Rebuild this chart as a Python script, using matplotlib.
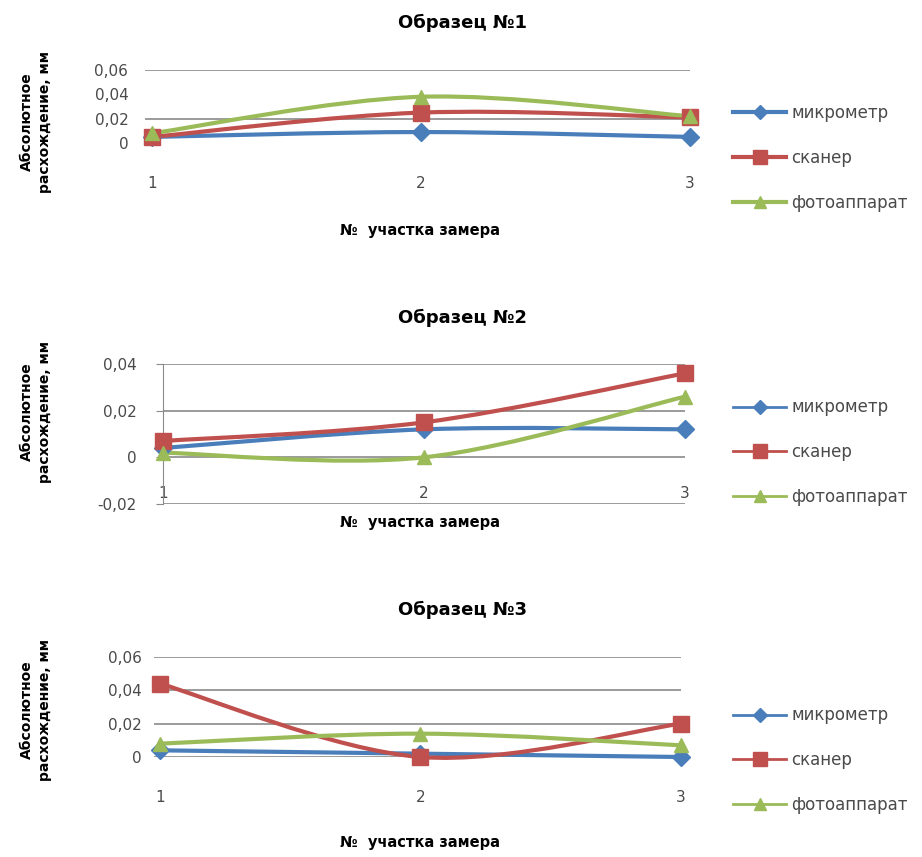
import matplotlib
matplotlib.use('Agg')
import matplotlib.pyplot as plt
import matplotlib.ticker as mtick
from matplotlib.path import Path
from matplotlib.patches import PathPatch
from matplotlib.lines import Line2D

plt.rcParams['font.family'] = ['DejaVu Sans']

# data
points = [1, 2, 3]
series_names = ['микрометр', 'сканер', 'фотоаппарат']

s1_micro = [0.005, 0.009, 0.005]
s1_scan = [0.005, 0.025, 0.021]
s1_photo = [0.008, 0.038, 0.022]

s2_micro = [0.004, 0.012, 0.012]
s2_scan = [0.007, 0.015, 0.036]
s2_photo = [0.002, 0.000, 0.026]

s3_micro = [0.004, 0.002, 0.000]
s3_scan = [0.044, 0.000, 0.020]
s3_photo = [0.008, 0.014, 0.007]

colors = ['#4A7EBB', '#C0504D', '#9BBB59']
markers = ['D', 's', '^']
msizes = [9, 12, 10]
txtcol = '#4a4a4a'
gridcol = '#8a8a8a'

W, H = 922, 857


def px(x0, y0, x1, y1):
    # pixel box -> figure fraction [left, bottom, width, height]
    return [x0 / W, 1 - y1 / H, (x1 - x0) / W, (y1 - y0) / H]


def smooth(ax, x, y, color, lw):
    # excel-style smoothed line: cubic bezier through the points
    n = len(x)
    verts = [(x[0], y[0])]
    codes = [Path.MOVETO]
    for i in range(n - 1):
        xp, yp = (x[i - 1], y[i - 1]) if i > 0 else (x[i], y[i])
        xn, yn = (x[i + 2], y[i + 2]) if i + 2 < n else (x[i + 1], y[i + 1])
        c1 = (x[i] + (x[i + 1] - xp) / 6, y[i] + (y[i + 1] - yp) / 6)
        c2 = (x[i + 1] - (xn - x[i]) / 6, y[i + 1] - (yn - y[i]) / 6)
        verts += [c1, c2, (x[i + 1], y[i + 1])]
        codes += [Path.CURVE4] * 3
    ax.add_patch(PathPatch(Path(verts, codes), fill=False, edgecolor=color,
                           lw=lw, capstyle='round', joinstyle='round',
                           clip_on=False, zorder=3))


fig = plt.figure(figsize=(9.22, 8.57), dpi=100)

charts = [
    dict(title='Образец №1', data=[s1_micro, s1_scan, s1_photo],
         box=px(145, 70, 690, 143), xlim=(0.974, 3.0), ylim=(0, 0.06),
         grid=[0.02, 0.06], xpad=24, ypad=12, spine=False, leg_lw=3,
         title_y=23, xlabel_y=230, ylabel_y=122, legend_y=158),
    dict(title='Образец №2', data=[s2_micro, s2_scan, s2_photo],
         box=px(163, 364, 685, 504), xlim=(1.0, 3.0), ylim=(-0.02, 0.04),
         grid=[-0.02, 0.0, 0.02, 0.04], xpad=-13, ypad=14, spine=True, leg_lw=2,
         title_y=318, xlabel_y=523, ylabel_y=412, legend_y=452),
    dict(title='Образец №3', data=[s3_micro, s3_scan, s3_photo],
         box=px(154, 657, 681, 757), xlim=(0.977, 3.0), ylim=(0, 0.06),
         grid=[0.0, 0.02, 0.04, 0.06], xpad=24, ypad=9, spine=False, leg_lw=2,
         title_y=610, xlabel_y=843, ylabel_y=710, legend_y=760),
]

fmt = mtick.FuncFormatter(lambda v, p: '0' if abs(v) < 1e-9 else f'{v:.2f}'.replace('.', ','))

for ch in charts:
    ax = fig.add_axes(ch['box'])
    ax.set_xlim(*ch['xlim'])
    ax.set_ylim(*ch['ylim'])
    for s in ax.spines.values():
        s.set_visible(False)
    if ch['spine']:
        ax.spines['left'].set_visible(True)
        ax.spines['left'].set_color(gridcol)
        ax.tick_params(axis='y', length=5, color=gridcol)
    else:
        ax.tick_params(axis='y', length=0)
    for g in ch['grid']:
        ax.axhline(g, color=gridcol, lw=1.2, zorder=1)
    ax.set_xticks(points)
    ax.set_yticks([round(ch['ylim'][0] + 0.02 * i, 2) for i in range(4)])
    ax.yaxis.set_major_formatter(fmt)
    ax.tick_params(axis='x', length=0, pad=ch['xpad'], labelsize=11, labelcolor=txtcol)
    ax.tick_params(axis='y', pad=ch['ypad'], labelsize=11, labelcolor=txtcol)

    for vals, c, m, ms in zip(ch['data'], colors, markers, msizes):
        smooth(ax, points, vals, c, 3)
        ax.plot(points, vals, linestyle='none', marker=m, ms=ms, color=c,
                clip_on=False, zorder=4)

    fig.text(462 / W, 1 - ch['title_y'] / H, ch['title'], ha='center', va='center',
             fontsize=13, fontweight='bold')
    fig.text(420 / W, 1 - ch['xlabel_y'] / H, '№  участка замера', ha='center',
             va='center', fontsize=10.5, fontweight='bold')
    fig.text(36 / W, 1 - ch['ylabel_y'] / H, 'Абсолютное\nрасхождение, мм',
             rotation=90, ha='center', va='center', multialignment='center',
             fontsize=10, fontweight='bold', linespacing=1.45)

    handles = [Line2D([], [], color=c, lw=ch['leg_lw'], marker=m, ms=ms - 2)
               for c, m, ms in zip(colors, markers, msizes)]
    fig.legend(handles, series_names, loc='center left',
               bbox_to_anchor=(733 / W, 1 - ch['legend_y'] / H),
               frameon=False, fontsize=12, labelcolor=txtcol, handlelength=3.2,
               handletextpad=0.3, labelspacing=1.6, borderpad=0, borderaxespad=0)

plt.savefig('out.png', dpi=100)
